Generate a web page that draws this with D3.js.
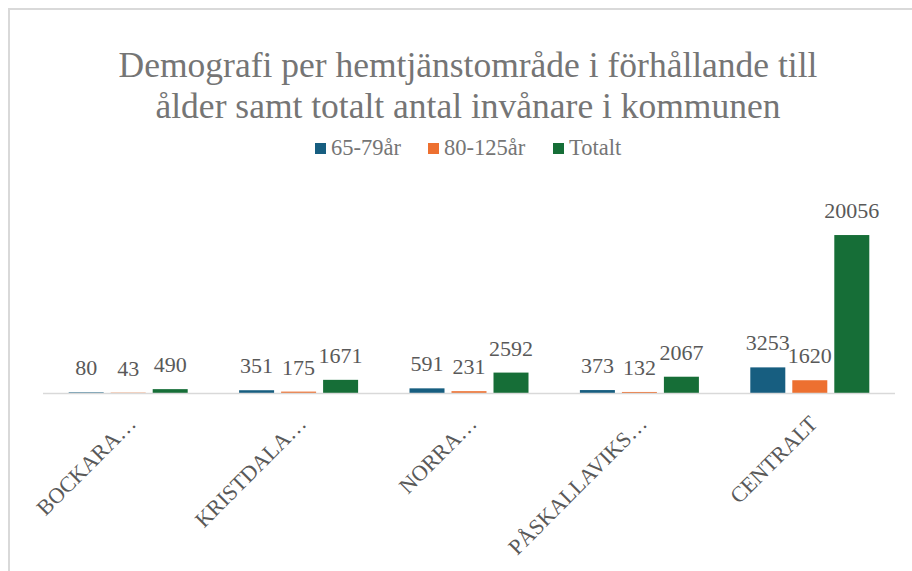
<!DOCTYPE html>
<html><head><meta charset="utf-8">
<script src="https://cdn.jsdelivr.net/npm/d3@7"></script>
</head><body style="margin:0">
<svg id="chart" width="912" height="571" style="display:block"></svg>
<script>
const categories = ["BOCKARA…", "KRISTDALA…", "NORRA…", "PÅSKALLAVIKS…", "CENTRALT"];
const seriesNames = ["65-79år", "80-125år", "Totalt"];
const s6579 = [80, 351, 591, 373, 3253];
const s80125 = [43, 175, 231, 132, 1620];
const sTotalt = [490, 1671, 2592, 2067, 20056];
const colors = ["#175E80", "#ED7030", "#166E37"];
const titleLines = ["Demografi per hemtjänstområde i förhållande till", "ålder samt totalt antal invånare i kommunen"];

const seriesVals = [s6579, s80125, sTotalt];
const svg = d3.select("#chart");
const FONT = '"Times New Roman", "Liberation Serif", serif';

svg.append("rect").attr("x", 9).attr("y", 9).attr("width", 930).attr("height", 600)
  .attr("fill", "#fff").attr("stroke", "#d9d9d9").attr("stroke-width", 2);

svg.append("g").selectAll("text").data(titleLines).join("text")
  .attr("x", 468).attr("y", (d, i) => 77 + i * 41)
  .attr("text-anchor", "middle")
  .style("font-family", FONT).style("font-size", "35.5px")
  .attr("fill", "#757575").text(d => d);

const x0 = d3.scaleBand().domain(categories).range([43, 895]).padding(0);
const x1 = d3.scaleBand().domain(seriesNames).range([25.7, x0.bandwidth() - 25.7]).paddingInner(0.1667);
const y = d3.scaleLinear().domain([0, 25000]).range([393, 196.1]);

// legend
const legendX = [315, 428, 553];
const lg = svg.append("g").selectAll("g").data(seriesNames).join("g")
  .attr("transform", (d, i) => `translate(${legendX[i]},143)`);
lg.append("rect").attr("width", 11).attr("height", 11).attr("fill", (d, i) => colors[i]);
lg.append("text").attr("x", 16).attr("y", 12)
  .style("font-family", FONT).style("font-size", "22.5px")
  .attr("fill", "#757575").text(d => d);

// bars
const groups = svg.append("g").selectAll("g").data(categories).join("g")
  .attr("transform", d => `translate(${x0(d)},0)`);
groups.selectAll("rect").data((c, ci) => seriesNames.map((s, si) => ({s, si, v: seriesVals[si][ci]})))
  .join("rect")
  .attr("x", d => x1(d.s)).attr("width", x1.bandwidth())
  .attr("y", d => y(d.v)).attr("height", d => y(0) - y(d.v))
  .attr("fill", d => colors[d.si]);
groups.selectAll("text").data((c, ci) => seriesNames.map((s, si) => ({s, si, v: seriesVals[si][ci]})))
  .join("text")
  .attr("x", d => x1(d.s) + x1.bandwidth() / 2).attr("y", d => y(d.v) - 17)
  .attr("text-anchor", "middle")
  .style("font-family", FONT).style("font-size", "22px")
  .attr("fill", "#595959").text(d => d.v);

// axis line
svg.append("line").attr("x1", 43).attr("x2", 895).attr("y1", y(0) + 0.5).attr("y2", y(0) + 0.5)
  .attr("stroke", "#d9d9d9").attr("stroke-width", 1.5);

// category labels
svg.append("g").selectAll("text").data(categories).join("text")
  .attr("transform", d => `translate(${x0(d) + x0.bandwidth() / 2 + 9},425) rotate(-45)`)
  .attr("text-anchor", "end")
  .style("font-family", FONT).style("font-size", "22px")
  .attr("fill", "#595959").text(d => d);
</script>
</body></html>
